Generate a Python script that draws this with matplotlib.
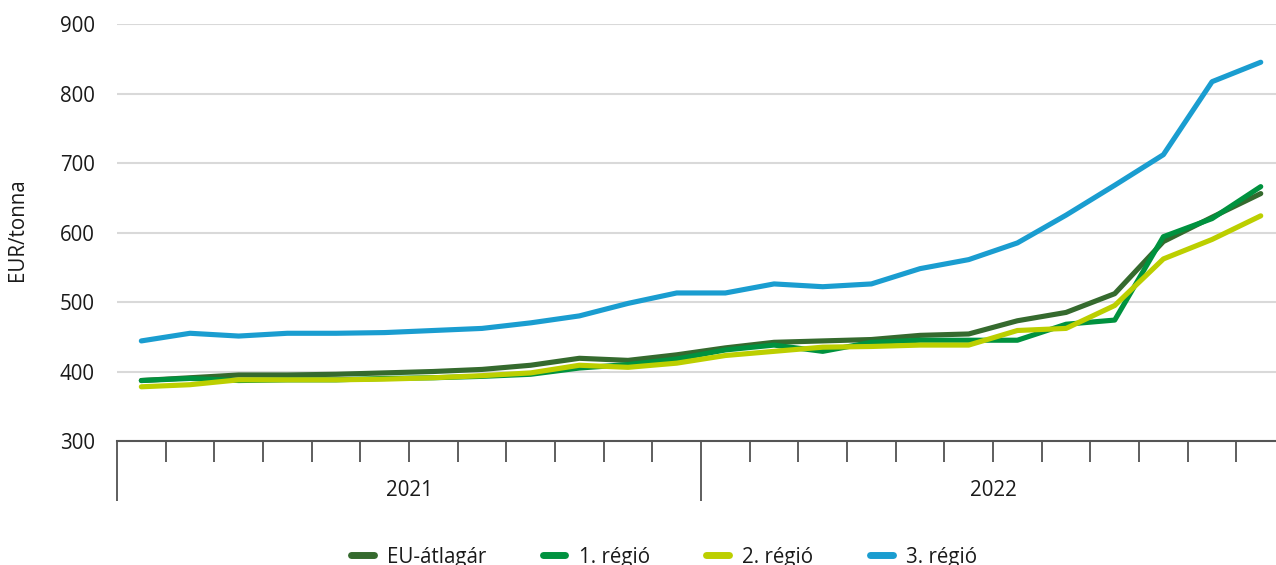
import matplotlib
matplotlib.use("Agg")
import matplotlib.pyplot as plt
import numpy as np

plt.rcParams['font.family'] = ['Open Sans', 'DejaVu Sans']

years = ["2021", "2022"]
months = list(range(24))

eu_avg = [387, 391, 395, 395, 396, 398, 400, 403, 409, 419, 416, 424,
          434, 442, 444, 446, 452, 454, 473, 485, 512, 587, 622, 656]
region1 = [387, 390, 387, 388, 388, 390, 391, 393, 396, 405, 410, 418,
           431, 438, 429, 442, 445, 445, 445, 468, 474, 594, 620, 666]
region2 = [378, 381, 388, 388, 388, 389, 391, 394, 398, 409, 406, 412,
           423, 429, 435, 436, 438, 438, 459, 462, 495, 562, 590, 624]
region3 = [444, 455, 451, 455, 455, 456, 459, 462, 470, 480, 498, 513,
           513, 526, 522, 526, 548, 561, 585, 625, 668, 712, 817, 845]

series = [("EU-átlagár", eu_avg, "#356a2e"),
          ("1. régió", region1, "#00923f"),
          ("2. régió", region2, "#bccf00"),
          ("3. régió", region3, "#1a9dd0")]

FS = 14.8
W, H = 1276, 565
fig = plt.figure(figsize=(W / 100, H / 100), dpi=100)
ax = fig.add_axes([117 / W, 124 / H, (W - 117) / W, (441 - 24) / H])

for label, vals, col in series:
    ax.plot(months, vals, color=col, lw=3.7, label=label,
            solid_capstyle='round', solid_joinstyle='round')

ax.set_yticks(np.arange(300, 901, 100))
ax.yaxis.grid(True, color="#d9d9d9", lw=1.5)
ax.set_axisbelow(True)
ax.tick_params(axis='y', length=0, pad=16, labelsize=FS, colors="#1a1a1a")
for s in ['top', 'right', 'left']:
    ax.spines[s].set_visible(False)
ax.spines['bottom'].set_color("#555555")
ax.spines['bottom'].set_linewidth(1.5)

ax.set_xticks([-0.5, 11.5, 23.5])
ax.set_xticklabels([])
ax.set_xticks([k - 0.5 for k in range(1, 24) if k != 12], minor=True)
ax.tick_params(axis='x', which='major', length=43, width=1.1, color="#333333", direction='out')
ax.tick_params(axis='x', which='minor', length=15, width=1.1, color="#333333", direction='out')

ax.set_ylim(300, 900)
ax.set_xlim(-0.5, -0.5 + (W - 117) / 48.67)

for i, y in enumerate(years):
    ax.annotate(y, xy=(5.5 + 12 * i, 0), xycoords=('data', 'axes fraction'),
                xytext=(0, -50), textcoords='offset pixels', ha='center', va='center',
                fontsize=FS, color="#1a1a1a")

fig.text(18 / W, 1 - 230 / H, "EUR/tonna", rotation=90, ha='center', va='center',
         fontsize=FS, color="#1a1a1a")

leg = fig.legend(loc='center', bbox_to_anchor=(664 / W, 8 / H), ncol=4, frameon=False,
                 fontsize=FS, handlelength=1.1, columnspacing=2.75, handletextpad=0.65,
                 labelcolor="#1a1a1a")
for h in leg.get_lines():
    h.set_linewidth(5)
    h.set_solid_capstyle('round')

fig.savefig("out.png", dpi=100)
